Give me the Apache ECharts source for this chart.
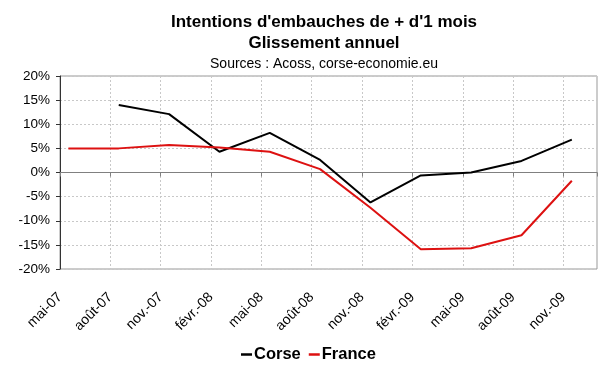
<!DOCTYPE html>
<html><head><meta charset="utf-8">
<script src="https://cdn.jsdelivr.net/npm/echarts@6/dist/echarts.min.js"></script>
<style>html,body{margin:0;padding:0;background:#fff}#c{width:600px;height:372px}</style>
</head><body><div id="c"></div>
<script>
const categories = ['mai-07','août-07','nov.-07','févr.-08','mai-08','août-08','nov.-08','févr.-09','mai-09','août-09','nov.-09'];
const corse = [null, 14.0, 12.1, 4.3, 8.2, 2.6, -6.2, -0.6, 0.0, 2.4, 6.8];
const france = [5.0, 5.0, 5.7, 5.2, 4.3, 0.7, -7.3, -15.9, -15.7, -13.0, -1.7];
const titleLines = ["Intentions d'embauches de + d'1 mois", 'Glissement annuel'];
const sourceText = 'Sources : Acoss, corse-economie.eu';

// each category is a quarter; the date axis counts months, points sit mid-month
const toPairs = arr => arr.map((v, i) => [i * 3 + 0.5, v]);
const FONT = 'Liberation Sans, Arial, sans-serif';

const chart = echarts.init(document.getElementById('c'), null, {renderer: 'canvas'});
chart.setOption({
  animation: false,
  backgroundColor: '#fff',
  title: [
    {text: titleLines[0], left: 319, textAlign: 'center', top: 9, textStyle: {fontFamily: FONT, fontSize: 17, fontWeight: 'bold', color: '#000'}},
    {text: titleLines[1], left: 319, textAlign: 'center', top: 30, textStyle: {fontFamily: FONT, fontSize: 17, fontWeight: 'bold', color: '#000'}},
    {text: sourceText, left: 319, textAlign: 'center', top: 52, textStyle: {fontFamily: FONT, fontSize: 14, fontWeight: 'normal', color: '#000'}}
  ],
  grid: {left: 60, right: 3, top: 76, bottom: 103, show: true, borderColor: '#999', borderWidth: 1},
  xAxis: [
    {
      type: 'value', min: 0, max: 32, interval: 3, position: 'bottom',
      axisLine: {show: false, onZero: false}, axisTick: {show: false},
      splitLine: {show: true, showMaxLine: false, lineStyle: {color: '#c8c8c8', type: [2, 2], width: 1}},
      axisLabel: {
        rotate: 45, margin: 26, fontFamily: FONT, fontSize: 14, color: '#000',
        showMaxLabel: false,
        formatter: v => (v % 3 === 0 && v / 3 < categories.length) ? categories[v / 3] : ''
      }
    },
    {
      type: 'value', min: 0, max: 32, interval: 3, position: 'top',
      axisLine: {show: true, onZero: true, lineStyle: {color: '#808080', width: 1}},
      axisTick: {show: true, inside: true, length: 4, lineStyle: {color: '#808080'}},
      axisLabel: {show: false}, splitLine: {show: false}
    }
  ],
  yAxis: {
    type: 'value', min: -20, max: 20, interval: 5,
    axisLine: {show: true, lineStyle: {color: '#333', width: 1}},
    axisTick: {show: true, length: 4, lineStyle: {color: '#333'}},
    splitLine: {show: true, lineStyle: {color: '#c8c8c8', type: [2, 2], width: 1}},
    axisLabel: {formatter: '{value}%', fontFamily: FONT, fontSize: 13.5, color: '#000', margin: 10}
  },
  legend: {
    bottom: 4, left: 236, icon: 'rect', itemWidth: 11, itemHeight: 2.5, itemGap: 8,
    textStyle: {fontFamily: FONT, fontSize: 16.5, fontWeight: 'bold', color: '#000', padding: [0, 0, 0, -3]},
    data: ['Corse', 'France']
  },
  series: [
    {name: 'Corse', type: 'line', xAxisIndex: 0, data: toPairs(corse), symbol: 'none',
     lineStyle: {color: '#000', width: 2}, itemStyle: {color: '#000'}},
    {name: 'France', type: 'line', xAxisIndex: 0, data: toPairs(france), symbol: 'none',
     lineStyle: {color: '#dd1111', width: 2}, itemStyle: {color: '#dd1111'}}
  ]
});
</script></body></html>
